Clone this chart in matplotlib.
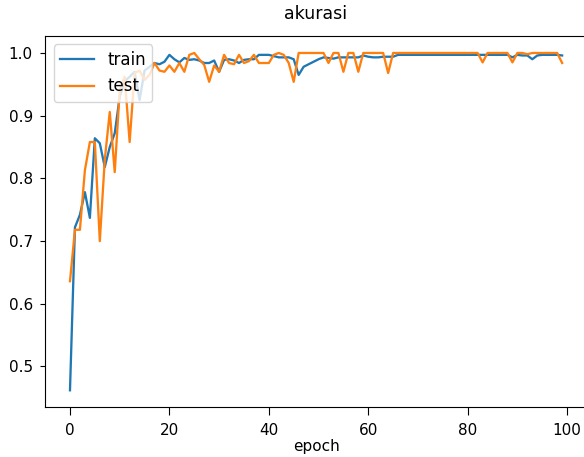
import matplotlib
matplotlib.use("Agg")
import matplotlib.pyplot as plt

# accuracy per epoch
train_acc = [
    0.462, 0.722, 0.742, 0.778, 0.737, 0.864, 0.856, 0.818, 0.850, 0.872,
    0.930, 0.955, 0.962, 0.970, 0.925, 0.972, 0.978, 0.984, 0.982, 0.986,
    0.997, 0.990, 0.985, 0.992, 0.989, 0.990, 0.988, 0.984, 0.984, 0.988,
    0.970, 0.989, 0.990, 0.988, 0.984, 0.989, 0.990, 0.990, 0.997, 0.997,
    0.997, 0.995, 0.993, 0.993, 0.993, 0.990, 0.965, 0.978, 0.982, 0.986,
    0.990, 0.993, 0.992, 0.991, 0.993, 0.993, 0.993, 0.993, 0.993, 0.996,
    0.994, 0.993, 0.993, 0.994, 0.994, 0.994, 0.997, 0.997, 0.997, 0.997,
    0.997, 0.997, 0.997, 0.997, 0.997, 0.997, 0.997, 0.997, 0.997, 0.997,
    0.997, 0.997, 0.997, 0.997, 0.997, 0.997, 0.997, 0.997, 0.997, 0.993,
    0.997, 0.996, 0.996, 0.990, 0.996, 0.997, 0.997, 0.997, 0.997, 0.996,
]
test_acc = [
    0.636, 0.718, 0.718, 0.813, 0.858, 0.858, 0.700, 0.830, 0.906, 0.810,
    0.940, 0.962, 0.858, 0.968, 0.972, 0.957, 0.965, 0.984, 0.972, 0.970,
    0.980, 0.970, 0.984, 0.970, 0.997, 1.000, 0.990, 0.981, 0.954, 0.980,
    0.970, 0.997, 0.984, 0.982, 0.997, 0.984, 0.987, 0.997, 0.984, 0.984,
    0.984, 0.997, 1.000, 0.997, 0.984, 0.954, 1.000, 1.000, 1.000, 1.000,
    1.000, 1.000, 0.984, 1.000, 1.000, 0.970, 1.000, 1.000, 0.970, 1.000,
    1.000, 1.000, 1.000, 1.000, 0.968, 1.000, 1.000, 1.000, 1.000, 1.000,
    1.000, 1.000, 1.000, 1.000, 1.000, 1.000, 1.000, 1.000, 1.000, 1.000,
    1.000, 1.000, 1.000, 0.985, 1.000, 1.000, 1.000, 1.000, 1.000, 0.985,
    1.000, 1.000, 0.998, 1.000, 1.000, 1.000, 1.000, 1.000, 1.000, 0.984,
]
series_labels = ["train", "test"]

plt.rcParams["font.size"] = 11
plt.rcParams["lines.linewidth"] = 1.65
plt.rcParams["xtick.major.size"] = 5.5
plt.rcParams["xtick.major.pad"] = 6
plt.rcParams["ytick.major.pad"] = 5.5

fig = plt.figure(figsize=(5.84, 4.57), dpi=100)
ax = fig.add_axes([0.0777, 0.109, 0.927, 0.812])

epochs = range(len(train_acc))
ax.plot(epochs, train_acc, label=series_labels[0])
ax.plot(epochs, test_acc, label=series_labels[1])

ax.set_title("akurasi", fontsize=12.5, pad=12)
# the reference crops this label at the bottom edge; keep it just inside
ax.set_xlabel("epoch", labelpad=0.5)
ax.legend(loc="upper left", fontsize=12)

fig.savefig("out.png", dpi=100)
